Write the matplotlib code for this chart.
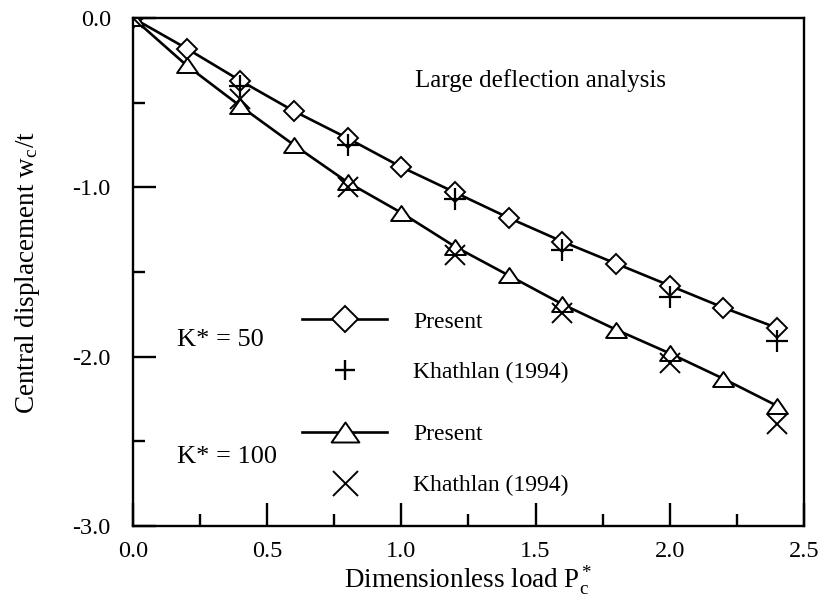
import matplotlib
matplotlib.use("Agg")
import matplotlib.pyplot as plt
from matplotlib.ticker import MultipleLocator, FormatStrFormatter
from matplotlib.lines import Line2D
from matplotlib.path import Path

plt.rcParams['font.family'] = ['Liberation Serif', 'DejaVu Serif']
plt.rcParams['mathtext.fontset'] = 'stix'

# dimensionless load P_c*
load = [0.0, 0.2, 0.4, 0.6, 0.8, 1.0, 1.2, 1.4, 1.6, 1.8, 2.0, 2.2, 2.4]
load_ref = [0.0, 0.4, 0.8, 1.2, 1.6, 2.0, 2.4]

# K* = 50
present_50 = [0.0, -0.18, -0.37, -0.55, -0.71, -0.88, -1.03, -1.18, -1.32, -1.45, -1.58, -1.71, -1.83]
khathlan_50 = [0.0, -0.40, -0.75, -1.07, -1.37, -1.65, -1.91]

# K* = 100
present_100 = [0.0, -0.28, -0.52, -0.75, -0.97, -1.15, -1.35, -1.52, -1.69, -1.84, -1.98, -2.13, -2.29]
khathlan_100 = [0.0, -0.48, -1.00, -1.40, -1.74, -2.04, -2.40]

# squat open triangle, a bit wider than tall
tri = Path([(-1.0, -0.72), (1.0, -0.72), (0.0, 0.72), (-1.0, -0.72)],
           [Path.MOVETO, Path.LINETO, Path.LINETO, Path.CLOSEPOLY])

fig = plt.figure(figsize=(8.22, 6.11), dpi=100)
ax = fig.add_axes([0.1618, 0.139, 0.8162, 0.8315])

lw = 1.9
ax.plot(load, present_50, '-', color='black', lw=lw, marker='D', ms=10,
        mfc='white', mec='black', mew=1.4, zorder=3)
ax.plot(load_ref, khathlan_50, ls='none', marker='+', ms=16, mec='black',
        mew=1.6, zorder=4)
ax.plot(load, present_100, '-', color='black', lw=lw, marker=tri, ms=15,
        mfc='white', mec='black', mew=1.4, zorder=3)
ax.plot(load_ref, khathlan_100, ls='none', marker='x', ms=15, mec='black',
        mew=1.4, zorder=4)

ax.set_xlim(0, 2.5)
ax.set_ylim(-3.0, 0.0)
ax.xaxis.set_major_locator(MultipleLocator(0.5))
ax.xaxis.set_minor_locator(MultipleLocator(0.25))
ax.yaxis.set_major_locator(MultipleLocator(1.0))
ax.yaxis.set_minor_locator(MultipleLocator(0.5))
ax.xaxis.set_major_formatter(FormatStrFormatter('%.1f'))
ax.yaxis.set_major_formatter(FormatStrFormatter('%.1f'))
ax.tick_params(which='both', direction='in', top=False, right=False,
               labelsize=17.5, width=1.7)
ax.tick_params(which='major', length=16.5)
ax.tick_params(which='minor', length=8.5)
ax.tick_params(axis='x', which='major', pad=11)
ax.tick_params(axis='y', which='major', pad=16)
for s in ax.spines.values():
    s.set_linewidth(1.7)

ax.set_xlabel(r'Dimensionless load P$_\mathregular{c}^{\,\mathregular{*}}$', fontsize=19.5, labelpad=1)
ax.set_ylabel(r'Central displacement w$_\mathregular{c}$/t', fontsize=19.5, labelpad=22)

ax.text(0.42, 0.864, 'Large deflection analysis', transform=ax.transAxes,
        fontsize=18, va='baseline', ha='left')

# legend groups
h50 = [Line2D([], [], color='black', lw=lw, marker='D', ms=13, mfc='white', mec='black', mew=1.4),
       Line2D([], [], ls='none', marker='+', ms=15, mec='black', mew=1.7)]
h100 = [Line2D([], [], color='black', lw=lw, marker=tri, ms=20, mfc='white', mec='black', mew=1.4),
        Line2D([], [], ls='none', marker='x', ms=18, mec='black', mew=1.4)]
labels = ['Present', 'Khathlan (1994)']
leg_kw = dict(frameon=False, fontsize=17, handlelength=3.6, handletextpad=1.1,
              labelspacing=1.22, borderpad=0, borderaxespad=0, loc='upper left')
leg1 = ax.legend(h50, labels, bbox_to_anchor=(0.252, 0.423), **leg_kw)
ax.add_artist(leg1)
ax.legend(h100, labels, bbox_to_anchor=(0.252, 0.201), **leg_kw)

ax.text(0.0656, 0.366, 'K* = 50', transform=ax.transAxes, fontsize=19, va='center')
ax.text(0.0656, 0.136, 'K* = 100', transform=ax.transAxes, fontsize=19, va='center')

fig.savefig('out.png', dpi=100)
